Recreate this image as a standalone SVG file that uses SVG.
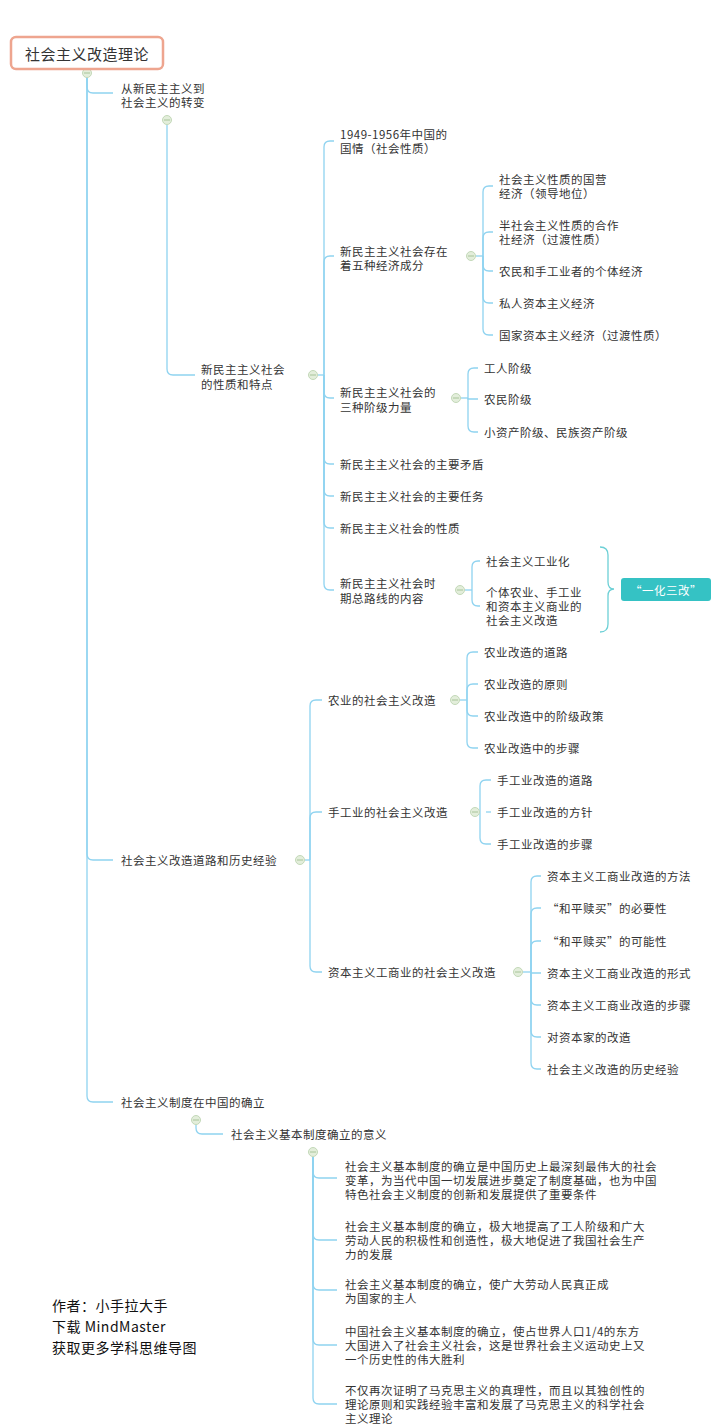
<svg xmlns="http://www.w3.org/2000/svg" width="720" height="1428" viewBox="0 0 720 1428">
<style>
text{font-family:"Noto Sans CJK SC","Liberation Sans",sans-serif;font-size:11.5px;fill:#333;dominant-baseline:central;letter-spacing:0.5px}
.c{fill:none;stroke:#8fd3f0;stroke-width:1.3}
.k{fill:#e3eedb;stroke:#c3d8b8;stroke-width:1}
.m{stroke:#a8c49a;stroke-width:1}
</style>
<rect width="720" height="1428" fill="#fff"/>
<g id="connectors">
<path class="c" d="M87,77 V87 Q87,93 93,93 H113"/>
<path class="c" d="M87,77 V854 Q87,860 93,860 H113"/>
<path class="c" d="M87,77 V1096 Q87,1102 93,1102 H113"/>
<path class="c" d="M167,125 V369 Q167,375 173,375 H195"/>
<path class="c" d="M318,375 H324"/>
<path class="c" d="M324,375 V147 Q324,141 330,141 H334"/>
<path class="c" d="M324,375 V262 Q324,256 330,256 H334"/>
<path class="c" d="M324,375 V392 Q324,398 330,398 H334"/>
<path class="c" d="M324,375 V458 Q324,464 330,464 H334"/>
<path class="c" d="M324,375 V490 Q324,496 330,496 H334"/>
<path class="c" d="M324,375 V522 Q324,528 330,528 H334"/>
<path class="c" d="M324,375 V584 Q324,590 330,590 H334"/>
<path class="c" d="M476,256 H483"/>
<path class="c" d="M483,256 V192 Q483,186 489,186 H493"/>
<path class="c" d="M483,256 V238 Q483,232 489,232 H493"/>
<path class="c" d="M483,256 V265 Q483,271 489,271 H493"/>
<path class="c" d="M483,256 V297 Q483,303 489,303 H493"/>
<path class="c" d="M483,256 V329 Q483,335 489,335 H493"/>
<path class="c" d="M461,398 H468"/>
<path class="c" d="M468,398 V374 Q468,368 474,368 H478"/>
<path class="c" d="M468,398 V399 H478"/>
<path class="c" d="M468,398 V426 Q468,432 474,432 H478"/>
<path class="c" d="M465,590 H472"/>
<path class="c" d="M472,590 V567 Q472,561 478,561 H480"/>
<path class="c" d="M472,590 V600 Q472,606 478,606 H480"/>
<path class="c" d="M305,860 H310"/>
<path class="c" d="M310,860 V706 Q310,700 316,700 H322"/>
<path class="c" d="M310,860 V818 Q310,812 316,812 H322"/>
<path class="c" d="M310,860 V966 Q310,972 316,972 H322"/>
<path class="c" d="M460,700 H467"/>
<path class="c" d="M467,700 V658 Q467,652 473,652 H478"/>
<path class="c" d="M467,700 V690 Q467,684 473,684 H478"/>
<path class="c" d="M467,700 V710 Q467,716 473,716 H478"/>
<path class="c" d="M467,700 V742 Q467,748 473,748 H478"/>
<path class="c" d="M486,812 H491"/>
<path class="c" d="M480,812 V786 Q480,780 486,780 H491"/>
<path class="c" d="M480,812 V838 Q480,844 486,844 H491"/>
<path class="c" d="M523,972 H531"/>
<path class="c" d="M531,972 V882 Q531,876 537,876 H541"/>
<path class="c" d="M531,972 V914 Q531,908 537,908 H541"/>
<path class="c" d="M531,972 V947 Q531,941 537,941 H541"/>
<path class="c" d="M531,972 V973 H541"/>
<path class="c" d="M531,972 V999 Q531,1005 537,1005 H541"/>
<path class="c" d="M531,972 V1031 Q531,1037 537,1037 H541"/>
<path class="c" d="M531,972 V1063 Q531,1069 537,1069 H541"/>
<path class="c" d="M196,1125 V1128 Q196,1134 202,1134 H223"/>
<path class="c" d="M313,1157 V1172 Q313,1178 319,1178 H337"/>
<path class="c" d="M313,1157 V1234 Q313,1240 319,1240 H337"/>
<path class="c" d="M313,1157 V1284 Q313,1290 319,1290 H337"/>
<path class="c" d="M313,1157 V1339 Q313,1345 319,1345 H337"/>
<path class="c" d="M313,1157 V1398 Q313,1404 319,1404 H337"/>
<path d="M600,547 Q608,547 608,555 V582 Q608,589 614,589 Q608,589 608,596 V624 Q608,632 600,632" fill="none" stroke="#6dd0d6" stroke-width="1.3"/>
</g>
<g id="toggles">
<circle class="k" cx="87" cy="73" r="4.5"/><line class="m" x1="84" y1="73" x2="90" y2="73"/>
<circle class="k" cx="167" cy="120" r="4.5"/><line class="m" x1="164" y1="120" x2="170" y2="120"/>
<circle class="k" cx="313" cy="375" r="4.5"/><line class="m" x1="310" y1="375" x2="316" y2="375"/>
<circle class="k" cx="471" cy="256" r="4.5"/><line class="m" x1="468" y1="256" x2="474" y2="256"/>
<circle class="k" cx="456" cy="398" r="4.5"/><line class="m" x1="453" y1="398" x2="459" y2="398"/>
<circle class="k" cx="460" cy="590" r="4.5"/><line class="m" x1="457" y1="590" x2="463" y2="590"/>
<circle class="k" cx="300" cy="860" r="4.5"/><line class="m" x1="297" y1="860" x2="303" y2="860"/>
<circle class="k" cx="455" cy="700" r="4.5"/><line class="m" x1="452" y1="700" x2="458" y2="700"/>
<circle class="k" cx="475" cy="812" r="4.5"/><line class="m" x1="472" y1="812" x2="478" y2="812"/>
<circle class="k" cx="518" cy="972" r="4.5"/><line class="m" x1="515" y1="972" x2="521" y2="972"/>
<circle class="k" cx="196" cy="1120" r="4.5"/><line class="m" x1="193" y1="1120" x2="199" y2="1120"/>
<circle class="k" cx="313" cy="1152" r="4.5"/><line class="m" x1="310" y1="1152" x2="316" y2="1152"/>
</g>
<g id="root"><rect x="11" y="37" width="152" height="32" rx="5" fill="#fff" stroke="#eea58f" stroke-width="2.5"/><text x="87" y="53" text-anchor="middle" style="font-size:15px">社会主义改造理论</text></g>
<g id="n1"><text x="121" y="88">从新民主主义到</text><text x="121" y="102">社会主义的转变</text></g>
<g id="n2"><text x="201" y="369">新民主主义社会</text><text x="201" y="384">的性质和特点</text></g>
<g id="n3"><text x="340" y="134">1949-1956年中国的</text><text x="340" y="148">国情（社会性质）</text></g>
<g id="n4"><text x="340" y="251">新民主主义社会存在</text><text x="340" y="265">着五种经济成分</text></g>
<g id="n5"><text x="499" y="179">社会主义性质的国营</text><text x="499" y="193">经济（领导地位）</text></g>
<g id="n6"><text x="499" y="225">半社会主义性质的合作</text><text x="499" y="239">社经济（过渡性质）</text></g>
<g id="n7"><text x="499" y="271">农民和手工业者的个体经济</text></g>
<g id="n8"><text x="499" y="303">私人资本主义经济</text></g>
<g id="n9"><text x="499" y="335">国家资本主义经济（过渡性质）</text></g>
<g id="n10"><text x="340" y="392">新民主主义社会的</text><text x="340" y="407">三种阶级力量</text></g>
<g id="n11"><text x="484" y="368">工人阶级</text></g>
<g id="n12"><text x="484" y="399">农民阶级</text></g>
<g id="n13"><text x="484" y="432">小资产阶级、民族资产阶级</text></g>
<g id="n14"><text x="340" y="464">新民主主义社会的主要矛盾</text></g>
<g id="n15"><text x="340" y="496">新民主主义社会的主要任务</text></g>
<g id="n16"><text x="340" y="528">新民主主义社会的性质</text></g>
<g id="n17"><text x="340" y="583">新民主主义社会时</text><text x="340" y="598">期总路线的内容</text></g>
<g id="n18"><text x="486" y="561">社会主义工业化</text></g>
<g id="n19"><text x="486" y="592">个体农业、手工业</text><text x="486" y="606">和资本主义商业的</text><text x="486" y="620">社会主义改造</text></g>
<g id="n20"><rect x="621" y="578" width="90" height="23" rx="3" fill="#35c2c4"/><text x="666" y="589.5" text-anchor="middle" style="fill:#fff">“一化三改”</text></g>
<g id="n21"><text x="121" y="860">社会主义改造道路和历史经验</text></g>
<g id="n22"><text x="328" y="700">农业的社会主义改造</text></g>
<g id="n23"><text x="484" y="652">农业改造的道路</text></g>
<g id="n24"><text x="484" y="684">农业改造的原则</text></g>
<g id="n25"><text x="484" y="716">农业改造中的阶级政策</text></g>
<g id="n26"><text x="484" y="748">农业改造中的步骤</text></g>
<g id="n27"><text x="328" y="812">手工业的社会主义改造</text></g>
<g id="n28"><text x="497" y="780">手工业改造的道路</text></g>
<g id="n29"><text x="497" y="812">手工业改造的方针</text></g>
<g id="n30"><text x="497" y="844">手工业改造的步骤</text></g>
<g id="n31"><text x="328" y="972">资本主义工商业的社会主义改造</text></g>
<g id="n32"><text x="547" y="876">资本主义工商业改造的方法</text></g>
<g id="n33"><text x="547" y="908">“和平赎买”的必要性</text></g>
<g id="n34"><text x="547" y="941">“和平赎买”的可能性</text></g>
<g id="n35"><text x="547" y="973">资本主义工商业改造的形式</text></g>
<g id="n36"><text x="547" y="1005">资本主义工商业改造的步骤</text></g>
<g id="n37"><text x="547" y="1037">对资本家的改造</text></g>
<g id="n38"><text x="547" y="1069">社会主义改造的历史经验</text></g>
<g id="n39"><text x="121" y="1102">社会主义制度在中国的确立</text></g>
<g id="n40"><text x="231" y="1134">社会主义基本制度确立的意义</text></g>
<g id="n41"><text x="345" y="1166">社会主义基本制度的确立是中国历史上最深刻最伟大的社会</text><text x="345" y="1180">变革，为当代中国一切发展进步奠定了制度基础，也为中国</text><text x="345" y="1194">特色社会主义制度的创新和发展提供了重要条件</text></g>
<g id="n42"><text x="345" y="1226">社会主义基本制度的确立，极大地提高了工人阶级和广大</text><text x="345" y="1240">劳动人民的积极性和创造性，极大地促进了我国社会生产</text><text x="345" y="1254">力的发展</text></g>
<g id="n43"><text x="345" y="1284">社会主义基本制度的确立，使广大劳动人民真正成</text><text x="345" y="1298">为国家的主人</text></g>
<g id="n44"><text x="345" y="1331">中国社会主义基本制度的确立，使占世界人口1/4的东方</text><text x="345" y="1345">大国进入了社会主义社会，这是世界社会主义运动史上又</text><text x="345" y="1359">一个历史性的伟大胜利</text></g>
<g id="n45"><text x="345" y="1390">不仅再次证明了马克思主义的真理性，而且以其独创性的</text><text x="345" y="1404">理论原则和实践经验丰富和发展了马克思主义的科学社会</text><text x="345" y="1418">主义理论</text></g>
<g id="credit"><text x="52" y="1305" style="font-size:14px;fill:#111">作者：小手拉大手</text><text x="52" y="1326" style="font-size:14px;fill:#111">下载 MindMaster</text><text x="52" y="1347" style="font-size:14px;fill:#111">获取更多学科思维导图</text></g>
</svg>
